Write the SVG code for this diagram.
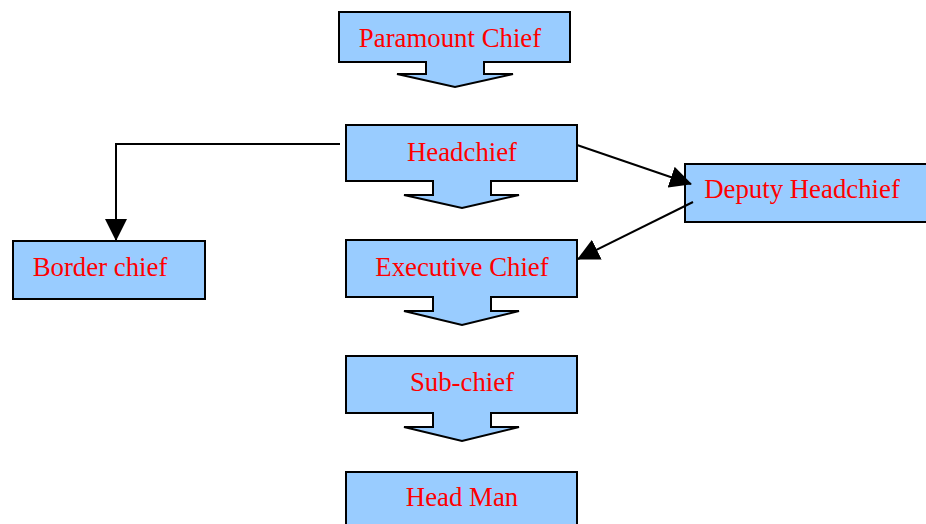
<svg xmlns="http://www.w3.org/2000/svg" width="926" height="524" viewBox="0 0 926 524">
<style>
.box{fill:#99CCFF;stroke:#000;stroke-width:2;stroke-linejoin:miter}
.lbl{font-family:"Liberation Serif","Times New Roman",serif;font-size:26.8px;fill:#FF0000;text-anchor:middle}
.conn{fill:none;stroke:#000;stroke-width:2}
</style>
<defs>
<marker id="arr" markerUnits="userSpaceOnUse" markerWidth="22" markerHeight="22" viewBox="0 0 22 22" refX="21" refY="11" orient="auto">
<path d="M0,0 L22,11 L0,22 z" fill="#000"/>
</marker>
</defs>
<rect width="926" height="524" fill="#fff"/>
<g id="paramount">
<path class="box" d="M339,12 H570 V62 H484 V74 H513 L455,87 L397,74 H426 V62 H339 Z"/>
<text class="lbl" x="450" y="47">Paramount Chief</text>
</g>
<g id="headchief">
<path class="box" d="M346,125 H577 V181 H491 V195 H519 L462,208 L404,195 H433 V181 H346 Z"/>
<text class="lbl" x="462" y="161">Headchief</text>
</g>
<g id="deputy">
<rect class="box" x="685" y="164" width="250" height="58"/>
<text class="lbl" x="802" y="198">Deputy Headchief</text>
</g>
<g id="border">
<rect class="box" x="13" y="241" width="192" height="58"/>
<text class="lbl" x="100" y="276">Border chief</text>
</g>
<g id="executive">
<path class="box" d="M346,240 H577 V297 H491 V311 H519 L462,325 L404,311 H433 V297 H346 Z"/>
<text class="lbl" x="462" y="276">Executive Chief</text>
</g>
<g id="subchief">
<path class="box" d="M346,356 H577 V413 H491 V427 H519 L462,441 L404,427 H433 V413 H346 Z"/>
<text class="lbl" x="462" y="391">Sub-chief</text>
</g>
<g id="headman">
<rect class="box" x="346" y="472" width="231" height="60"/>
<text class="lbl" x="462" y="506">Head Man</text>
</g>
<g id="connectors">
<path class="conn" d="M340,144 H116 V240" marker-end="url(#arr)"/>
<path class="conn" d="M577,145 L691,184" marker-end="url(#arr)"/>
<path class="conn" d="M693,202 L578,259" marker-end="url(#arr)"/>
</g>
</svg>
